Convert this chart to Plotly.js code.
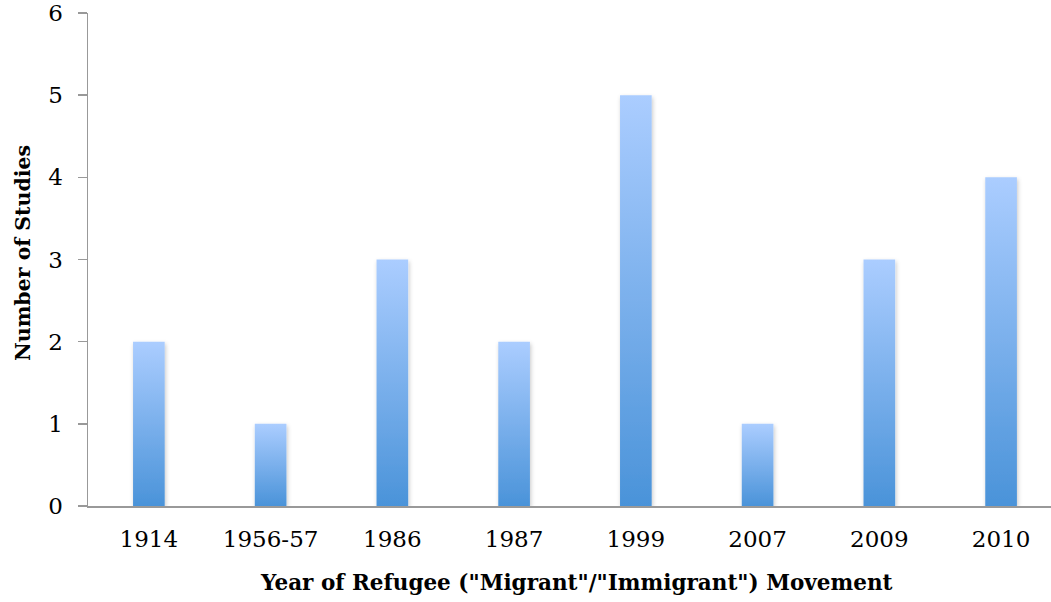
<!DOCTYPE html>
<html>
<head>
<meta charset="utf-8">
<script src="https://cdn.plot.ly/plotly-3.0.1.min.js"></script>
<style>
  html, body { margin: 0; padding: 0; background: #fff; }
  #chart { width: 1051px; height: 602px; }
</style>
</head>
<body>
<div id="chart"></div>
<script>
// Studies per refugee movement year
const years = ["1914", "1956-57", "1986", "1987", "1999", "2007", "2009", "2010"];
const studyCounts = [2, 1, 3, 2, 5, 1, 3, 4];
const yTicks = [0, 1, 2, 3, 4, 5, 6];
const xTitle = "Year of Refugee (\"Migrant\"/\"Immigrant\") Movement";
const yTitle = "Number of Studies";

const serif = "DejaVu Serif, Liberation Serif, serif";
const W = 1051, H = 602;
const M = { l: 88, r: 0, t: 13, b: 96 };

const trace = {
  type: "bar",
  x: years,
  y: studyCounts,
  width: 0.26,
  marker: { color: "#7aaeea", line: { width: 0 } },
  hoverinfo: "x+y"
};

// pixel -> paper helpers for title placement
const px = x => (x - M.l) / (W - M.l - M.r);
const py = y => (H - M.b - y) / (H - M.t - M.b);

const layout = {
  width: W,
  height: H,
  margin: M,
  paper_bgcolor: "#ffffff",
  plot_bgcolor: "#ffffff",
  showlegend: false,
  xaxis: {
    type: "category",
    range: [-0.5, 7.41],
    showline: true,
    linecolor: "#999999",
    linewidth: 1.5,
    ticks: "",
    showgrid: false,
    zeroline: false,
    tickfont: { family: serif, size: 23, color: "#000" },
    ticklabelstandoff: 12
  },
  yaxis: {
    range: [0, 6],
    tickvals: yTicks,
    showline: true,
    linecolor: "#999999",
    linewidth: 1.5,
    ticks: "outside",
    ticklen: 9,
    tickwidth: 1.5,
    tickcolor: "#999999",
    showgrid: false,
    zeroline: false,
    tickfont: { family: serif, size: 23, color: "#000" },
    ticklabelstandoff: 10
  },
  annotations: [
    {
      text: xTitle,
      xref: "paper", yref: "paper",
      x: px(576), y: py(582),
      xanchor: "center", yanchor: "middle",
      showarrow: false,
      font: { family: serif, size: 21.5, color: "#000", weight: "bold" }
    },
    {
      text: yTitle,
      xref: "paper", yref: "paper",
      x: px(23), y: py(253),
      xanchor: "center", yanchor: "middle",
      textangle: -90,
      showarrow: false,
      font: { family: serif, size: 20.5, color: "#000", weight: "bold" }
    }
  ]
};

Plotly.newPlot("chart", [trace], layout, { staticPlot: true, displayModeBar: false }).then(gd => {
  // Vertical gradient and soft drop shadow on each bar
  const svg = gd.querySelector("svg.main-svg");
  const ns = "http://www.w3.org/2000/svg";
  let defs = svg.querySelector("defs");
  if (!defs) { defs = document.createElementNS(ns, "defs"); svg.insertBefore(defs, svg.firstChild); }

  const grad = document.createElementNS(ns, "linearGradient");
  grad.setAttribute("id", "barGrad");
  grad.setAttribute("x1", "0"); grad.setAttribute("y1", "0");
  grad.setAttribute("x2", "0"); grad.setAttribute("y2", "1");
  [["0%", "#abcdff"], ["100%", "#4a93d9"]].forEach(([off, col]) => {
    const s = document.createElementNS(ns, "stop");
    s.setAttribute("offset", off);
    s.setAttribute("stop-color", col);
    grad.appendChild(s);
  });
  defs.appendChild(grad);

  const filt = document.createElementNS(ns, "filter");
  filt.setAttribute("id", "barShadow");
  filt.setAttribute("x", "-30%"); filt.setAttribute("y", "-10%");
  filt.setAttribute("width", "160%"); filt.setAttribute("height", "130%");
  const sh = document.createElementNS(ns, "feDropShadow");
  sh.setAttribute("dx", "1"); sh.setAttribute("dy", "2");
  sh.setAttribute("stdDeviation", "2");
  sh.setAttribute("flood-color", "#000");
  sh.setAttribute("flood-opacity", "0.22");
  filt.appendChild(sh);
  defs.appendChild(filt);

  gd.querySelectorAll(".barlayer .point path").forEach(p => {
    p.style.fill = "url(#barGrad)";
    p.setAttribute("filter", "url(#barShadow)");
  });
});
</script>
</body>
</html>
